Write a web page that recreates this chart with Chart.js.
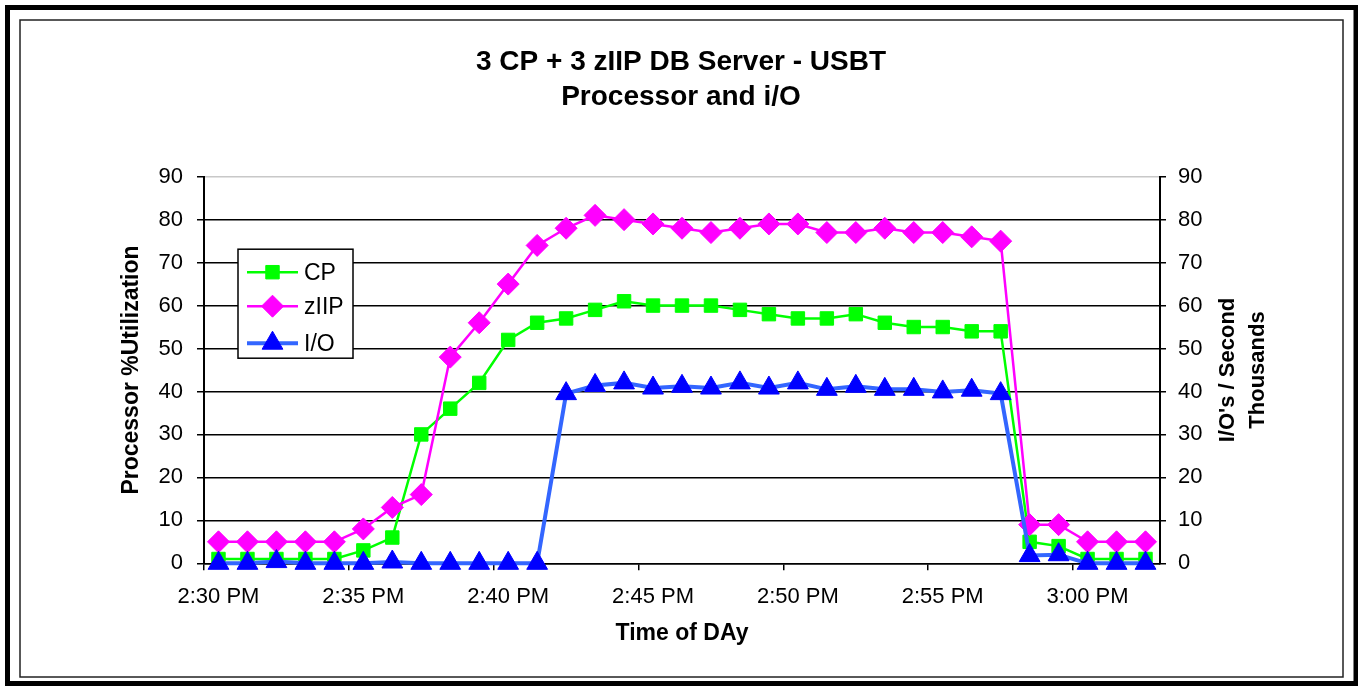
<!DOCTYPE html>
<html>
<head>
<meta charset="utf-8">
<title>3 CP + 3 zIIP DB Server - USBT</title>
<script src="https://cdn.jsdelivr.net/npm/chart.js"></script>
<style>
  html, body { margin: 0; padding: 0; background: #fff; }
  #wrap { width: 1358px; height: 686px; }
</style>
</head>
<body>
<div id="wrap"><canvas id="usbtChart" width="1358" height="686"></canvas></div>
<script>
// one sample per minute
const timeLabels = [
    '2:30 PM', '2:31 PM', '2:32 PM', '2:33 PM', '2:34 PM', '2:35 PM', '2:36 PM', '2:37 PM',
    '2:38 PM', '2:39 PM', '2:40 PM', '2:41 PM', '2:42 PM', '2:43 PM', '2:44 PM', '2:45 PM',
    '2:46 PM', '2:47 PM', '2:48 PM', '2:49 PM', '2:50 PM', '2:51 PM', '2:52 PM', '2:53 PM',
    '2:54 PM', '2:55 PM', '2:56 PM', '2:57 PM', '2:58 PM', '2:59 PM', '3:00 PM', '3:01 PM',
    '3:02 PM'
];

// processor %utilization
const cpValues = [1, 1, 1, 1, 1, 3, 6, 30, 36, 42, 52, 56, 57, 59, 61, 60, 60, 60, 59, 58, 57, 57, 58, 56, 55, 55, 54, 54, 5, 4, 1, 1, 1];
const ziipValues = [5, 5, 5, 5, 5, 8, 13, 16, 48, 56, 65, 74, 78, 81, 80, 79, 78, 77, 78, 79, 79, 77, 77, 78, 77, 77, 76, 75, 9, 9, 5, 5, 5];

// I/O's per second, thousands (right axis)
const ioValues = [0, 0, 0.4, 0, 0, 0, 0.3, 0, 0, 0, 0, 0, 39.5, 41.4, 42, 40.8, 41.2, 40.8, 42, 40.8, 42, 40.5, 41.2, 40.5, 40.5, 39.9, 40.3, 39.5, 1.8, 2, 0, 0, 0];

const titleLines = ['3 CP + 3 zIIP DB Server - USBT', 'Processor and i/O'];
const rightTitleLines = ["I/O's / Second", 'Thousands'];

const FONT = "'Liberation Sans', Arial, Helvetica, sans-serif";

// white page + double frame
const framePlugin = {
    id: 'frame',
    beforeDraw(chart) {
        const c = chart.ctx;
        c.save();
        c.fillStyle = '#fff';
        c.fillRect(0, 0, chart.width, chart.height);
        c.strokeStyle = '#000';
        c.lineWidth = 5;
        c.strokeRect(7.5, 7.5, 1348.5, 676);
        c.lineWidth = 1.5;
        c.strokeStyle = '#222';
        c.strokeRect(20, 20, 1323, 657);
        c.restore();
    }
};

// right axis title reads bottom-to-top like the left one
const rightTitlePlugin = {
    id: 'rightTitle',
    afterDraw(chart) {
        const c = chart.ctx;
        const area = chart.chartArea;
        const midY = (area.top + area.bottom) / 2;
        c.save();
        c.fillStyle = '#000';
        c.font = 'bold 22px ' + FONT;
        c.textAlign = 'center';
        c.textBaseline = 'middle';
        [68, 98].forEach((dx, i) => {
            c.save();
            c.translate(area.right + dx, midY);
            c.rotate(-Math.PI / 2);
            c.fillText(rightTitleLines[i], 0, 0);
            c.restore();
        });
        c.restore();
    }
};

// boxed legend inside the plot, line + marker like the series
const boxLegendPlugin = {
    id: 'boxLegend',
    afterDraw(chart) {
        const c = chart.ctx;
        const area = chart.chartArea;
        const x0 = area.left + 34, y0 = area.top + 72.5;
        const w = 115, h = 109;
        c.save();
        c.fillStyle = '#fff';
        c.fillRect(x0, y0, w, h);
        c.strokeStyle = '#000';
        c.lineWidth = 1.5;
        c.strokeRect(x0, y0, w, h);
        const rows = [23, 57, 94];
        chart.data.datasets.forEach((ds, i) => {
            const y = y0 + rows[i];
            c.strokeStyle = ds.borderColor;
            c.lineWidth = ds.borderWidth;
            c.beginPath();
            c.moveTo(x0 + 9, y);
            c.lineTo(x0 + 60, y);
            c.stroke();
            c.fillStyle = ds.pointBackgroundColor;
            c.strokeStyle = ds.pointBorderColor;
            c.lineWidth = 1;
            Chart.helpers.drawPoint(c, {
                pointStyle: ds.pointStyle,
                radius: ds.pointRadius,
                rotation: 0,
                borderWidth: 1
            }, x0 + 34.5, y);
            c.fillStyle = '#000';
            c.font = '23px ' + FONT;
            c.textAlign = 'left';
            c.textBaseline = 'middle';
            c.fillText(ds.label, x0 + 66, y + 1);
        });
        c.restore();
    }
};

const ctx = document.getElementById('usbtChart').getContext('2d');
const usbtChart = new Chart(ctx, {
    type: 'line',
    data: {
        labels: timeLabels,
        datasets: [
            {
                label: 'CP',
                data: cpValues,
                yAxisID: 'y',
                borderColor: '#00ff00',
                backgroundColor: '#00ff00',
                pointBackgroundColor: '#00ff00',
                pointBorderColor: '#00ff00',
                borderWidth: 2.5,
                pointStyle: 'rect',
                pointRadius: 9.5,
                pointBorderWidth: 1,
                tension: 0,
                fill: false,
                clip: false,
                order: 3
            },
            {
                label: 'zIIP',
                data: ziipValues,
                yAxisID: 'y',
                borderColor: '#ff00ff',
                backgroundColor: '#ff00ff',
                pointBackgroundColor: '#ff00ff',
                pointBorderColor: '#ff00ff',
                borderWidth: 2.5,
                pointStyle: 'rectRot',
                pointRadius: 11,
                pointBorderWidth: 1,
                tension: 0,
                fill: false,
                clip: false,
                order: 2
            },
            {
                label: 'I/O',
                data: ioValues,
                yAxisID: 'y1',
                borderColor: '#3366ff',
                backgroundColor: '#0000ff',
                pointBackgroundColor: '#0000ff',
                pointBorderColor: '#0000ff',
                borderWidth: 4,
                pointStyle: 'triangle',
                pointRadius: 12,
                pointBorderWidth: 1,
                tension: 0,
                fill: false,
                clip: false,
                order: 1
            }
        ]
    },
    options: {
        responsive: false,
        animation: false,
        layout: { padding: { left: 82, right: 78, top: 20, bottom: 38.2 } },
        plugins: {
            legend: { display: false },
            tooltip: { enabled: false },
            title: {
                display: true,
                text: titleLines,
                color: '#000',
                font: { family: FONT, size: 28, weight: 'bold', lineHeight: 1.25 },
                padding: { top: 24.5, bottom: 62.2 }
            }
        },
        scales: {
            x: {
                type: 'category',
                offset: true,
                afterFit(scale) { scale.height = 84.5; },
                grid: {
                    offset: true,
                    drawOnChartArea: false,
                    tickLength: 7,
                    lineWidth: 1.5,
                    tickColor: (c) => (c.index % 5 === 0 ? '#000' : 'rgba(0,0,0,0)')
                },
                border: { color: '#000', width: 1.5 },
                ticks: {
                    autoSkip: false,
                    maxRotation: 0,
                    padding: 13,
                    color: '#000',
                    font: { family: FONT, size: 22 },
                    callback: (val, index) => (index % 5 === 0 ? timeLabels[index] : '')
                },
                title: {
                    display: true,
                    text: 'Time of DAy',
                    color: '#000',
                    font: { family: FONT, size: 23, weight: 'bold' },
                    padding: { top: 0, bottom: 0 }
                }
            },
            y: {
                position: 'left',
                min: 0,
                max: 90,
                afterFit(scale) { scale.width = 122; },
                grid: {
                    color: (c) => (c.tick && c.tick.value === 90 ? '#c8c8c8' : '#000'),
                    tickColor: '#000',
                    lineWidth: 1.5,
                    tickLength: 7
                },
                border: { color: '#000', width: 2 },
                ticks: {
                    stepSize: 10,
                    padding: 14,
                    color: '#000',
                    font: { family: FONT, size: 22 }
                },
                title: {
                    display: true,
                    text: 'Processor %Utilization',
                    color: '#000',
                    font: { family: FONT, size: 23, weight: 'bold' },
                    padding: { top: 36.2, bottom: 0 }
                }
            },
            y1: {
                position: 'right',
                min: 0,
                max: 90,
                afterFit(scale) { scale.width = 120; },
                grid: {
                    drawOnChartArea: false,
                    color: '#000',
                    tickColor: '#000',
                    lineWidth: 1.5,
                    tickLength: 6
                },
                border: { color: '#000', width: 2 },
                ticks: {
                    stepSize: 10,
                    padding: 12,
                    color: '#000',
                    font: { family: FONT, size: 22 }
                }
            }
        }
    },
    plugins: [framePlugin, rightTitlePlugin, boxLegendPlugin]
});
</script>
</body>
</html>
